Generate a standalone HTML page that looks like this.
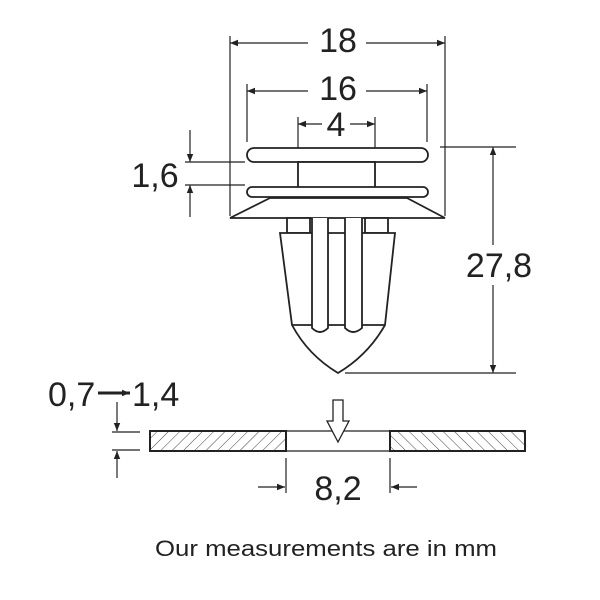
<!DOCTYPE html>
<html><head><style>body{margin:0;background:#fff}svg{display:block}text{font-family:"Liberation Sans",Arial,sans-serif;fill:#222}</style></head>
<body>
<svg width="600" height="600" viewBox="0 0 600 600" xmlns="http://www.w3.org/2000/svg">
<defs>
<marker id="a" viewBox="0 0 10 10" refX="10" refY="5" markerWidth="12" markerHeight="8" orient="auto-start-reverse" markerUnits="userSpaceOnUse"><path d="M0,1 L10,5 L0,9 z" fill="#222"/></marker>
<pattern id="h" width="8" height="8" patternUnits="userSpaceOnUse" patternTransform="rotate(45)"><line x1="0" y1="0" x2="0" y2="8" stroke="#444" stroke-width="1"/></pattern>
<pattern id="h2" width="8" height="8" patternUnits="userSpaceOnUse" patternTransform="rotate(-45)"><line x1="0" y1="0" x2="0" y2="8" stroke="#444" stroke-width="1"/></pattern>
</defs>
<g stroke="#222" fill="none" stroke-width="1.2">
<line x1="230" y1="36" x2="230" y2="216"/><line x1="445" y1="36" x2="445" y2="216"/>
<line x1="247" y1="84" x2="247" y2="142"/><line x1="427" y1="84" x2="427" y2="142"/>
<line x1="298" y1="117" x2="298" y2="188"/><line x1="375" y1="117" x2="375" y2="188"/>
<line x1="230" y1="43" x2="308" y2="43" marker-start="url(#a)"/><line x1="366" y1="43" x2="445" y2="43" marker-end="url(#a)"/>
<line x1="247" y1="91" x2="308" y2="91" marker-start="url(#a)"/><line x1="366" y1="91" x2="427" y2="91" marker-end="url(#a)"/>
<line x1="298" y1="124" x2="322" y2="124" marker-start="url(#a)"/><line x1="350" y1="124" x2="375" y2="124" marker-end="url(#a)"/>
<line x1="185" y1="162" x2="245" y2="162"/><line x1="185" y1="185" x2="245" y2="185"/>
<line x1="190" y1="130" x2="190" y2="162" marker-end="url(#a)"/><line x1="190" y1="217" x2="190" y2="185" marker-end="url(#a)"/>
<line x1="440" y1="147" x2="516" y2="147"/><line x1="345" y1="373" x2="516" y2="373"/>
<line x1="493" y1="147" x2="493" y2="245" marker-start="url(#a)"/><line x1="493" y1="285" x2="493" y2="373" marker-end="url(#a)"/>
</g>
<g stroke="#222" fill="#fff" stroke-width="1.8">
<rect x="247" y="148" width="181" height="14" rx="7"/>
<rect x="298" y="162" width="77" height="26"/>
<rect x="247" y="187" width="181" height="10" rx="5"/>
<path d="M270,198 L407,198 L445,218 L230,218 Z"/>
<path d="M287,218 L310,218 L310,233 L287,233 Z M365,218 L388,218 L388,233 L365,233 Z"/>
<path d="M280,233 L395,233 L385,325 Q368,355 338,373 Q308,355 292,325 Z"/>
<line x1="292" y1="325" x2="385" y2="325"/>
<path d="M312,218 L312,328 Q320,336 328,328 L328,218" />
<path d="M345,218 L345,328 Q353,336 362,328 L362,218" />
</g>
<text x="338" y="52" font-size="34" text-anchor="middle">18</text>
<text x="338" y="100" font-size="34" text-anchor="middle">16</text>
<text x="336" y="136" font-size="34" text-anchor="middle">4</text>
<text x="155" y="187" font-size="34" text-anchor="middle">1,6</text>
<text x="499" y="277" font-size="34" text-anchor="middle">27,8</text>
<rect x="150" y="431" width="136" height="20" fill="url(#h)" stroke="#222" stroke-width="2"/>
<rect x="390" y="431" width="135" height="20" fill="url(#h2)" stroke="#222" stroke-width="2"/>
<g stroke="#222" stroke-width="1.2" fill="none">
<line x1="286" y1="431" x2="390" y2="431"/><line x1="286" y1="451" x2="390" y2="451"/>
<path d="M333,400 L343,400 L343,421 L349,421 L338,442 L327,421 L333,421 Z" fill="#fff" stroke-width="1.3"/>
<line x1="286" y1="458" x2="286" y2="493"/><line x1="390" y1="458" x2="390" y2="493"/>
<line x1="258" y1="487" x2="285" y2="487" marker-end="url(#a)"/><line x1="417" y1="487" x2="391" y2="487" marker-end="url(#a)"/>
<line x1="112" y1="432" x2="140" y2="432"/><line x1="112" y1="450" x2="140" y2="450"/>
<line x1="117" y1="402" x2="117" y2="431" marker-end="url(#a)"/><line x1="117" y1="478" x2="117" y2="451" marker-end="url(#a)"/>
<line x1="98" y1="393" x2="130" y2="393" stroke-width="3" marker-end="url(#a)"/>
</g>
<text x="48" y="406" font-size="34">0,7</text>
<text x="132" y="406" font-size="34">1,4</text>
<text x="338" y="500" font-size="34" text-anchor="middle">8,2</text>
<text x="155" y="556" font-size="22" textLength="342" lengthAdjust="spacingAndGlyphs">Our measurements are in mm</text>
</svg>
</body></html>
